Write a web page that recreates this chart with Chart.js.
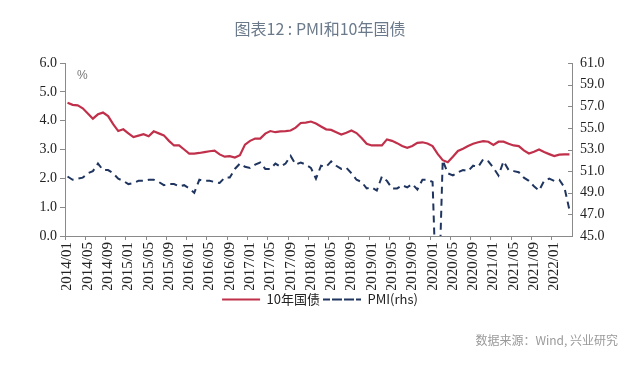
<!DOCTYPE html>
<html><head><meta charset="utf-8">
<script src="https://cdn.jsdelivr.net/npm/chart.js@4"></script>
<style>
html,body{margin:0;padding:0;background:#fff;}
#wrap{position:relative;width:640px;height:373px;overflow:hidden;}
#c{position:absolute;left:0;top:0;}
.title{position:absolute;left:0;top:16px;width:640px;text-align:center;font-family:"Noto Sans CJK SC";font-size:16px;color:#6b7a8b;line-height:24px;}
.src{position:absolute;right:22px;top:331px;font-family:"Noto Sans CJK SC";font-size:12px;color:#9a9a9a;line-height:18px;}
.unit{position:absolute;left:77px;top:68px;font-family:"Liberation Sans";font-size:12px;color:#777;line-height:14px;}
</style></head>
<body>
<div id="wrap">
<canvas id="c" width="640" height="373"></canvas>
<div class="title">图表12 : PMI和10年国债</div>
<div class="unit">%</div>
<div class="src">数据来源：Wind, 兴业研究</div>
</div>
<script>
const months = [
"2014/01","2014/02","2014/03","2014/04","2014/05","2014/06","2014/07","2014/08","2014/09","2014/10","2014/11","2014/12",
"2015/01","2015/02","2015/03","2015/04","2015/05","2015/06","2015/07","2015/08","2015/09","2015/10","2015/11","2015/12",
"2016/01","2016/02","2016/03","2016/04","2016/05","2016/06","2016/07","2016/08","2016/09","2016/10","2016/11","2016/12",
"2017/01","2017/02","2017/03","2017/04","2017/05","2017/06","2017/07","2017/08","2017/09","2017/10","2017/11","2017/12",
"2018/01","2018/02","2018/03","2018/04","2018/05","2018/06","2018/07","2018/08","2018/09","2018/10","2018/11","2018/12",
"2019/01","2019/02","2019/03","2019/04","2019/05","2019/06","2019/07","2019/08","2019/09","2019/10","2019/11","2019/12",
"2020/01","2020/02","2020/03","2020/04","2020/05","2020/06","2020/07","2020/08","2020/09","2020/10","2020/11","2020/12",
"2021/01","2021/02","2021/03","2021/04","2021/05","2021/06","2021/07","2021/08","2021/09","2021/10","2021/11","2021/12",
"2022/01","2022/02","2022/03","2022/04"];

const bond10y = [
4.62,4.55,4.53,4.43,4.25,4.07,4.22,4.28,4.16,3.88,3.64,3.70,
3.56,3.43,3.48,3.53,3.46,3.63,3.56,3.49,3.30,3.14,3.14,3.00,
2.86,2.86,2.88,2.91,2.94,2.96,2.83,2.75,2.77,2.72,2.80,3.17,
3.30,3.38,3.38,3.55,3.64,3.60,3.63,3.64,3.66,3.76,3.92,3.93,
3.97,3.90,3.80,3.70,3.68,3.60,3.52,3.58,3.66,3.57,3.40,3.20,
3.14,3.14,3.14,3.35,3.30,3.22,3.12,3.06,3.12,3.23,3.25,3.21,
3.12,2.85,2.63,2.56,2.75,2.95,3.03,3.12,3.20,3.25,3.29,3.27,
3.16,3.27,3.27,3.20,3.14,3.12,2.97,2.86,2.92,3.00,2.91,2.84,
2.77,2.82,2.83,2.83];

const pmi = [
50.5,50.2,50.3,50.4,50.8,51.0,51.7,51.1,51.1,50.8,50.3,50.1,
49.8,49.9,50.1,50.1,50.2,50.2,50.0,49.7,49.8,49.8,49.6,49.7,
49.4,49.0,50.2,50.1,50.1,50.0,49.9,50.4,50.4,51.2,51.7,51.4,
51.3,51.6,51.8,51.2,51.2,51.7,51.4,51.7,52.4,51.6,51.8,51.6,
51.3,50.3,51.5,51.4,51.9,51.5,51.2,51.3,50.8,50.2,50.0,49.4,
49.5,49.2,50.5,50.1,49.4,49.4,49.7,49.5,49.8,49.3,50.2,50.2,
50.0,35.7,52.0,50.8,50.6,50.9,51.1,51.0,51.5,51.4,52.1,51.9,
51.3,50.6,51.9,51.1,51.0,50.9,50.4,50.1,49.6,49.2,50.1,50.3,
50.1,50.2,49.5,47.4];

const leftTicks = {min:0, max:6, step:1};
const rightTicks = {min:45, max:61, step:2};

const RED = '#C0304A';
const NAVY = '#1F3560';
const AXIS = '#8a8a8a';
const SERIF = 'Liberation Serif';

// right axis tick marks point inward (into the plot), as in the reference
const innerTicks = {
  id:'innerTicks',
  afterDraw(chart){
    const s = chart.scales.y1;
    const ctx = chart.ctx;
    ctx.save();
    ctx.strokeStyle = AXIS;
    ctx.lineWidth = 1;
    s.ticks.forEach(t => {
      const py = Math.round(s.getPixelForValue(t.value)) + 0.5;
      ctx.beginPath();
      ctx.moveTo(s.left - 4, py);
      ctx.lineTo(s.left, py);
      ctx.stroke();
    });
    ctx.restore();
  }
};

new Chart(document.getElementById('c'), {
  type: 'line',
  data: {
    labels: months,
    datasets: [
      {label:'10年国债', data:bond10y, yAxisID:'y', borderColor:RED, backgroundColor:RED,
       borderWidth:2.2, pointRadius:0, tension:0},
      {label:'PMI(rhs)', data:pmi, yAxisID:'y1', borderColor:NAVY, backgroundColor:'rgba(0,0,0,0)',
       borderWidth:2, borderDash:[7,5], pointRadius:0, tension:0, clip:0}
    ]
  },
  plugins:[innerTicks],
  options: {
    responsive:false, animation:false,
    layout:{padding:{top:63, bottom:57, left:0, right:0}},
    plugins:{
      legend:{position:'bottom', labels:{boxWidth:38, boxHeight:0, padding:3, color:'#222',
        font:{family:'Noto Sans CJK SC', size:13}}},
      title:{display:false}, tooltip:{enabled:false}
    },
    scales:{
      x:{type:'category', offset:true,
        grid:{offset:true, drawOnChartArea:false, tickLength:4,
          tickColor:(c)=> (c.index % 4 === 0 ? AXIS : 'rgba(0,0,0,0)')},
        border:{color:AXIS},
        ticks:{autoSkip:false, maxRotation:90, minRotation:90, padding:2, color:'#222',
          font:{family:SERIF, size:15},
          callback:function(v,i){ return i % 4 === 0 ? this.getLabelForValue(v) : ''; }},
        afterFit(s){ s.height = 54; }
      },
      y:{position:'left', min:leftTicks.min, max:leftTicks.max,
        ticks:{stepSize:leftTicks.step, callback:(v)=>Number(v).toFixed(1), color:'#222', padding:3,
          font:{family:SERIF, size:14}},
        grid:{drawOnChartArea:false, tickLength:5, color:AXIS},
        border:{color:AXIS},
        afterFit(s){ s.width = 65; }
      },
      y1:{position:'right', min:rightTicks.min, max:rightTicks.max,
        ticks:{stepSize:rightTicks.step, callback:(v)=>Number(v).toFixed(1), color:'#222', padding:8,
          font:{family:SERIF, size:14}},
        grid:{drawOnChartArea:false, drawTicks:false, color:AXIS},
        border:{color:AXIS},
        afterFit(s){ s.width = 68; }
      }
    }
  }
});
</script>
</body></html>
